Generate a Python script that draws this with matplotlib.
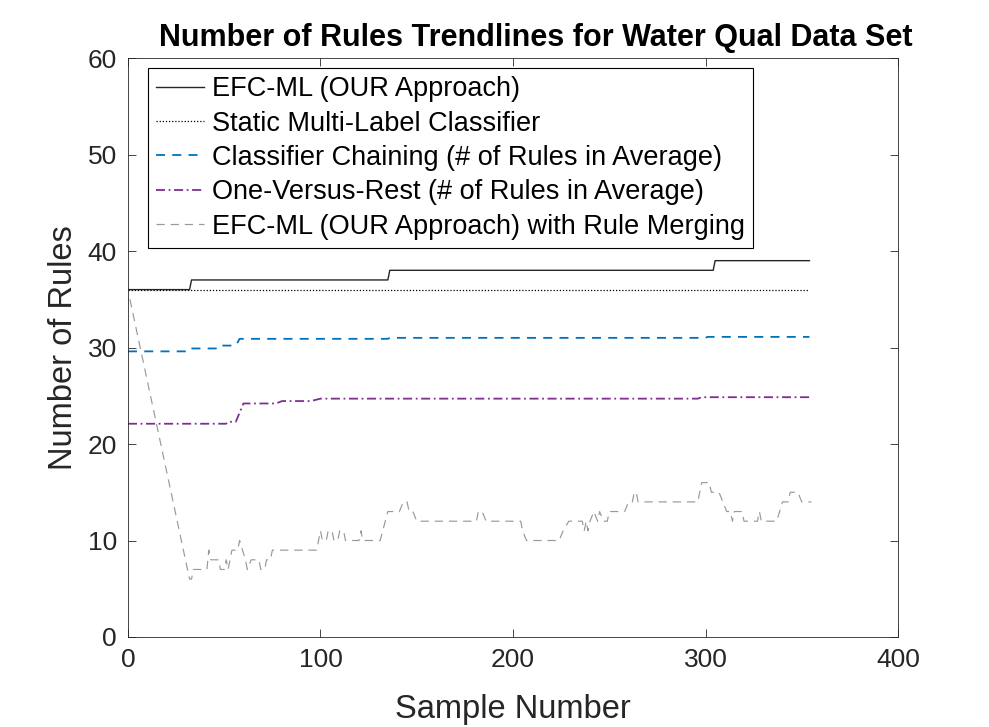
import matplotlib
matplotlib.use("Agg")
import matplotlib.pyplot as plt

plt.rcParams['font.family'] = ['Liberation Sans', 'DejaVu Sans']

# EFC-ML (our approach): breakpoints of the step line
efc_x = [0, 32, 33, 135, 136, 304, 305, 354]
efc_y = [36, 36, 37, 37, 38, 38, 39, 39]

# static multi-label classifier
static_x = [0, 354]
static_y = [36, 36]

# classifier chaining (average number of rules)
cc_x = [0, 31, 32, 48, 49, 56, 58, 135, 136, 300, 301, 354]
cc_y = [29.6, 29.6, 29.9, 29.9, 30.2, 30.2, 30.9, 30.9, 31.0, 31.0, 31.1, 31.1]

# one-versus-rest (average number of rules)
ovr_x = [0, 51, 52, 56, 60, 77, 80, 95, 100, 296, 298, 354]
ovr_y = [22.1, 22.1, 22.3, 22.3, 24.2, 24.2, 24.45, 24.45, 24.7, 24.7, 24.85, 24.85]

# EFC-ML with rule merging
merge_pts = [(1, 35), (32, 6), (33, 6), (34, 7), (41, 7), (42, 9), (43, 8), (47, 8),
             (48, 7), (50, 7), (51, 8), (52, 7), (53, 8), (54, 9), (57, 9), (58, 10),
             (61, 8), (62, 7), (64, 8), (68, 8), (69, 7), (71, 7), (72, 8), (74, 8),
             (75, 9), (98, 9), (99, 10), (100, 11), (101, 10), (103, 10), (104, 11),
             (106, 11), (107, 10), (109, 10), (110, 11), (112, 11), (113, 10), (120, 10),
             (121, 11), (122, 10), (131, 10), (135, 13), (141, 13), (143, 14), (145, 14),
             (146, 13), (148, 13), (150, 12), (181, 12), (182, 13), (184, 13), (186, 12),
             (204, 12), (205, 11), (207, 10), (224, 10), (226, 11), (229, 12), (236, 12),
             (237, 11), (238, 12), (239, 11), (240, 12), (242, 13), (244, 12), (245, 13),
             (247, 12), (249, 12), (250, 13), (258, 13), (260, 14), (262, 14), (263, 15),
             (264, 15), (265, 14), (296, 14), (298, 16), (302, 16), (303, 15), (307, 15),
             (309, 14), (311, 13), (313, 13), (314, 12), (315, 13), (319, 13), (320, 12),
             (327, 12), (328, 13), (329, 12), (337, 12), (340, 14), (343, 14), (344, 15),
             (348, 15), (350, 14), (355, 14)]
merge_x = [p[0] for p in merge_pts]
merge_y = [p[1] for p in merge_pts]

labels = ["EFC-ML (OUR Approach)",
          "Static Multi-Label Classifier",
          "Classifier Chaining (# of Rules in Average)",
          "One-Versus-Rest (# of Rules in Average)",
          "EFC-ML (OUR Approach) with Rule Merging"]

fig = plt.figure(figsize=(9.89, 7.27), dpi=100)
ax = fig.add_axes([0.1294, 0.1238, 0.7786, 0.7964])

ax.plot(efc_x, efc_y, color="#262626", lw=1.0, ls="-", label=labels[0])
ax.plot(static_x, static_y, color="black", lw=0.9, ls=(0, (1, 1.5)), label=labels[1])
ax.plot(cc_x, cc_y, color="#0072BD", lw=1.3, ls=(0, (5, 4)), label=labels[2])
ax.plot(ovr_x, ovr_y, color="#7E2F8E", lw=1.3, ls=(0, (5, 2, 1, 2)), label=labels[3])
ax.plot(merge_x, merge_y, color="#999999", lw=0.85, ls=(0, (7, 5)), label=labels[4])

ax.set_xlim(0, 400)
ax.set_ylim(0, 60)
ax.set_xticks([0, 100, 200, 300, 400])
ax.set_yticks([0, 10, 20, 30, 40, 50, 60])
ax.tick_params(direction="in", length=6, width=0.6, labelsize=19, colors="#262626",
               top=True, right=True, pad=8)
for s in ax.spines.values():
    s.set_linewidth(0.6)
    s.set_color("#262626")

ax.set_xlabel("Sample Number", fontsize=23.5, color="#262626", labelpad=16)
ax.set_ylabel("Number of Rules", fontsize=23.5, color="#262626", labelpad=6)
ax.set_title("Number of Rules Trendlines for Water Qual Data Set",
             fontsize=22, fontweight="bold", color="black", pad=9, x=0.53)

leg = ax.legend(loc="upper left", bbox_to_anchor=(148 / 989, 1 - 68 / 727),
                bbox_transform=fig.transFigure, fontsize=19.5, frameon=True,
                fancybox=False, edgecolor="black", framealpha=1,
                borderpad=0.3, labelspacing=0.31, handlelength=1.75,
                handletextpad=0.3, borderaxespad=0)
leg.get_frame().set_linewidth(0.8)

fig.savefig("out.png", dpi=100)
